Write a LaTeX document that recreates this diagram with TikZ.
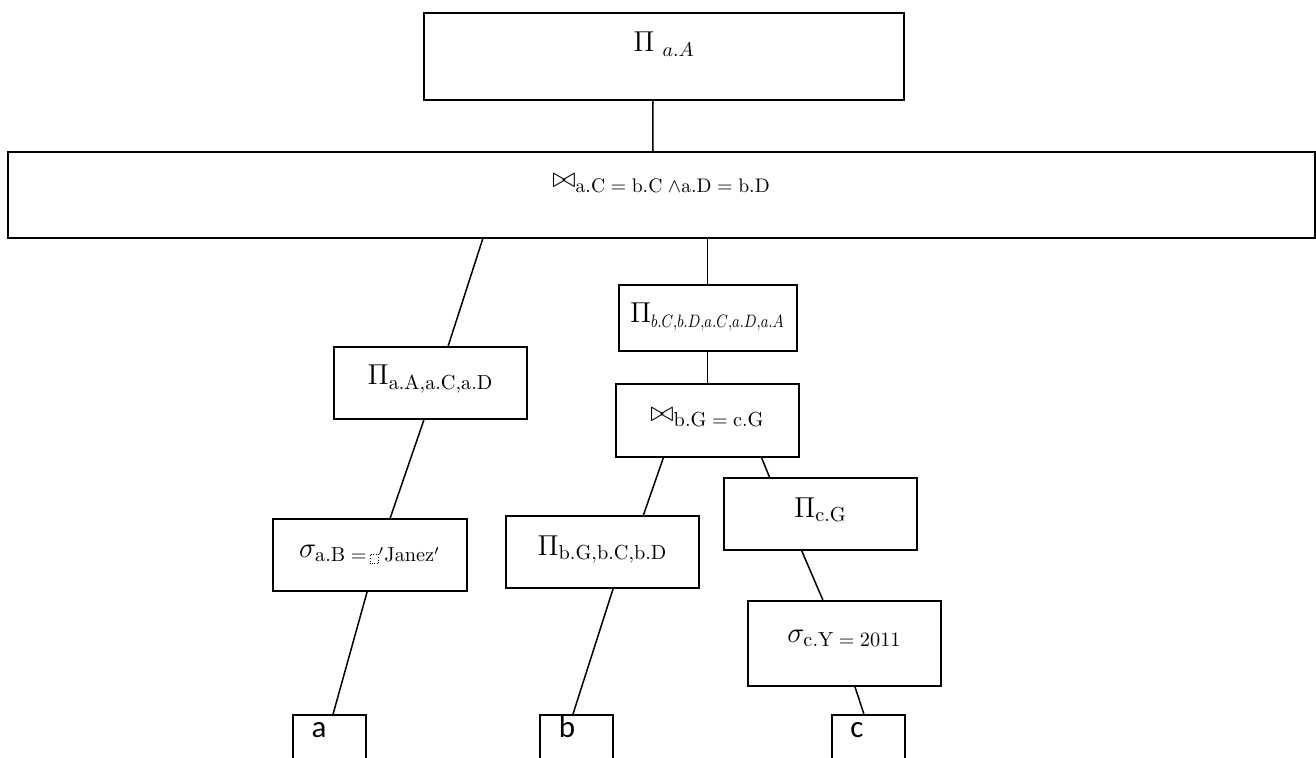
\documentclass[tikz,border=0pt]{standalone}
\usepackage{fontspec}
\usepackage{graphicx}
\newfontfamily\leaffont{Carlito}
\usetikzlibrary{calc}
\tikzset{
  opbox/.style={draw, line width=1pt, rectangle, inner sep=0pt,
    font=\fontsize{14.5}{17}\selectfont},
  sz/.style 2 args={minimum width=#1*0.5pt, minimum height=#2*0.5pt},
  leafbox/.style={draw, line width=1pt, rectangle, inner sep=0pt,
    minimum width=36.5pt, minimum height=45pt},
  leaftext/.style={font=\leaffont\fontsize{15.5}{18}\selectfont, inner sep=0pt, anchor=base},
  edge/.style={line width=0.75pt},
}
% small dotted placeholder square
\newcommand\phbox{\tikz[baseline=1.2pt,x=1pt,y=1pt]\draw[densely dotted,line width=0.3pt](0,0)rectangle(4.2,4.8);}
% compact (narrowed) italic subscript list
\newcommand\smallsub[1]{\scalebox{0.8}[1]{\fontsize{8.6}{10}\selectfont$#1$}}
\begin{document}
\begin{tikzpicture}[x=0.5pt,y=-0.5pt]
\useasboundingbox (0,0) rectangle (1316,758);
\clip (0,0) rectangle (1316,758);

% operator boxes
\node[opbox, sz={480}{87}, text height=0pt, text depth=4.5pt] (top) at (664,56.5) {$\Pi\;{}_{a.A}$};
\node[opbox, sz={1307}{86}, text height=0pt, text depth=7pt, font=\fontsize{14}{16}\selectfont] (join1) at (661.5,195)
  {$\bowtie_{\mathrm{a.C\;=\;b.C\;\wedge a.D\;=\;b.D}}$};
\node[opbox, sz={178}{66}, text height=5pt, text depth=0pt] (pibc) at (707.5,318)
  {$\Pi_{\smallsub{b.C{,}b.D{,}a.C{,}a.D{,}a.A}}$};
\node[opbox, sz={193}{72}, text height=2pt, text depth=0pt] (pia) at (430.5,383) {$\Pi_{\mathrm{a.A,a.C,a.D}}$};
\node[opbox, sz={183}{73}, text height=1.5pt, text depth=0pt] (join2) at (707.5,420.5) {$\bowtie_{\mathrm{b.G\;=\;c.G}}$};
\node[opbox, sz={194}{72}, text height=2pt, text depth=0pt] (siga) at (370,555)
  {$\sigma_{\mathrm{a.B\;=}\,\phbox{}^{\prime}\mathrm{Janez}{}^{\prime}}$};
\node[opbox, sz={193}{72}, text height=3pt, text depth=0pt] (pib) at (602.5,552) {$\Pi_{\mathrm{b.G,b.C,b.D}}$};
\node[opbox, sz={193}{72}, text height=3pt, text depth=0pt] (picg) at (820.5,514) {$\Pi_{\mathrm{c.G}}$};
\node[opbox, sz={193}{85}, text height=0pt, text depth=1.5pt] (sigc) at (844.5,643.5) {$\sigma_{\mathrm{c.Y\;=\;2011}}$};

% relation leaves (running past the lower edge)
\node[leafbox] (a) at (329.5,760) {};
\node[leafbox] (b) at (576,760) {};
\node[leafbox] (c) at (868.5,760) {};
\node[leaftext] (atext) at (319,737) {a};
\node[leaftext] (btext) at (567,737) {b};
\node[leaftext] (ctext) at (857,737) {c};

% tree edges
\draw[edge] ($(top.south west)!0.477!(top.south east)$) -- ($(join1.north west)!0.4935!(join1.north east)$);
\draw[edge] ($(join1.south west)!0.3634!(join1.south east)$) -- ($(pia.north west)!0.5907!(pia.north east)$);
\draw[edge] (join1.south -| pibc.north) -- (pibc.north);
\draw[edge] (pibc.south) -- (join2.north);
\draw[edge] ($(pia.south west)!0.466!(pia.south east)$) -- ($(siga.north west)!0.603!(siga.north east)$);
\draw[edge] ($(siga.south west)!0.485!(siga.south east)$) -- ($(a.north west)!0.548!(a.north east)$);
\draw[edge] ($(join2.south west)!0.261!(join2.south east)$) -- ($(pib.north west)!0.71!(pib.north east)$);
\draw[edge] ($(join2.south west)!0.793!(join2.south east)$) -- ($(picg.north west)!0.238!(picg.north east)$);
\draw[edge] ($(pib.south west)!0.554!(pib.south east)$) -- ($(b.north west)!0.46!(b.north east)$);
\draw[edge] ($(picg.south west)!0.404!(picg.south east)$) -- ($(sigc.north west)!0.389!(sigc.north east)$);
\draw[edge] ($(sigc.south west)!0.554!(sigc.south east)$) -- ($(c.north west)!0.438!(c.north east)$);
\end{tikzpicture}
\end{document}
